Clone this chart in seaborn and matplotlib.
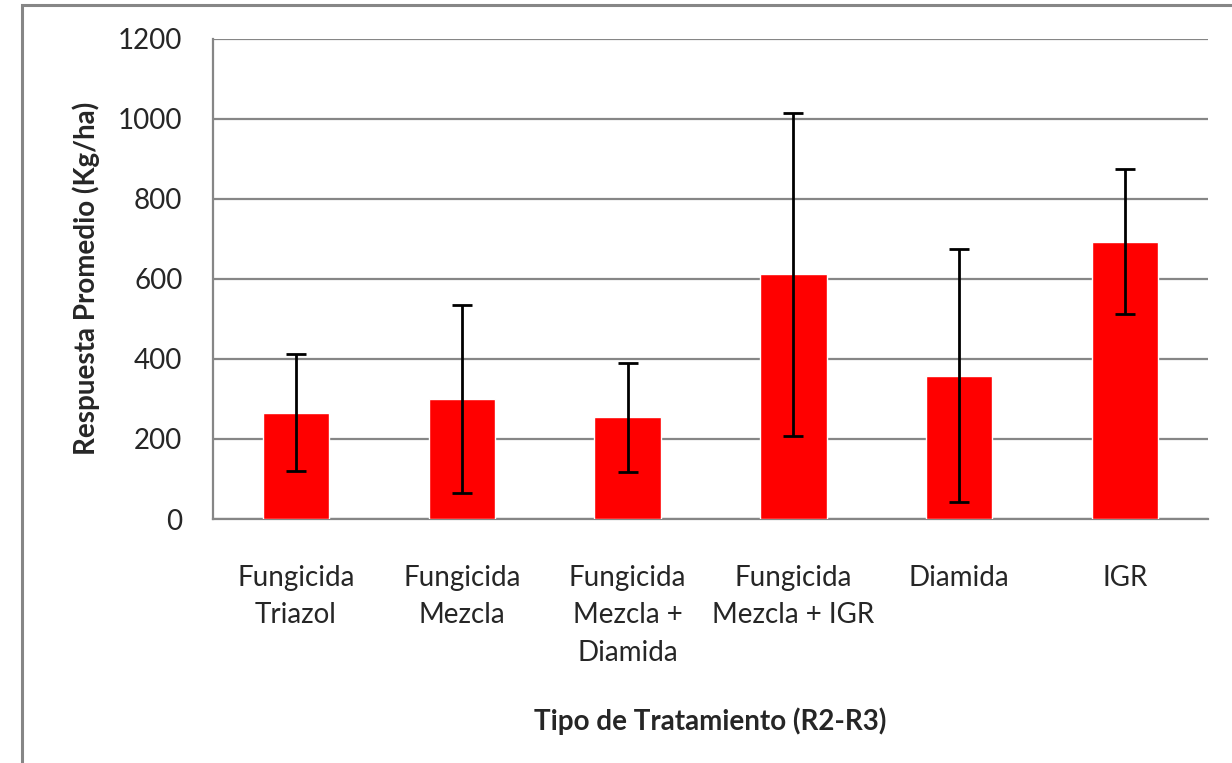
import matplotlib
matplotlib.use('Agg')
import matplotlib.pyplot as plt
import seaborn as sns
import numpy as np
import pandas as pd
from matplotlib.patches import Rectangle

# datos
tratamientos = ['Fungicida\nTriazol', 'Fungicida\nMezcla', 'Fungicida\nMezcla +\nDiamida',
                'Fungicida\nMezcla + IGR', 'Diamida', 'IGR']
respuesta = [265, 300, 254, 611, 358, 693]
error = [146, 234, 137, 403, 316, 182]
y_ticks = [0, 200, 400, 600, 800, 1000, 1200]

sns.set_style('white')
plt.rcParams['font.family'] = ['Lato', 'DejaVu Sans']

df = pd.DataFrame({'tratamiento': tratamientos, 'respuesta': respuesta, 'error': error})

fig = plt.figure(figsize=(12.32, 7.63), dpi=100)
ax = fig.add_axes([213 / 1232, 1 - 519 / 763, (1208 - 213) / 1232, (519 - 38.7) / 763])

# borde exterior del grafico (estilo Excel)
fig.patches.append(Rectangle((22 / 1232, -0.1), 1.2, 1 - 5 / 763 + 0.1, transform=fig.transFigure,
                             fill=False, edgecolor='#868686', linewidth=2.2, zorder=0))

sns.barplot(data=df, x='tratamiento', y='respuesta', color='#ff0000', width=0.4,
            saturation=1, errorbar=None, ax=ax, zorder=3)
ax.errorbar(np.arange(len(respuesta)), df['respuesta'], yerr=df['error'], fmt='none',
            ecolor='black', elinewidth=2, capsize=7, capthick=2, zorder=4)

ax.set_ylim(0, 1200)
ax.set_yticks(y_ticks)
ax.set_xlim(-0.5, len(tratamientos) - 0.5)
ax.yaxis.grid(True, color='#868686', linewidth=1.6, zorder=0)
ax.set_axisbelow(True)

for s in ['top', 'right']:
    ax.spines[s].set_visible(False)
for s in ['left', 'bottom']:
    ax.spines[s].set_color('#868686')
    ax.spines[s].set_linewidth(1.6)

ax.tick_params(axis='y', direction='out', length=6, width=1.6, color='#868686',
               pad=16, labelsize=20)
ax.set_xticks(np.arange(-0.5, len(tratamientos)), minor=True)
ax.tick_params(axis='x', which='minor', direction='out', length=8, width=1.6, color='#868686')
ax.tick_params(axis='x', which='major', length=0, pad=33, labelsize=20)
ax.set_xticklabels(tratamientos, linespacing=1.55)

ax.set_xlabel('Tipo de Tratamiento (R2-R3)', fontsize=20, fontweight='bold', labelpad=30)
ax.set_ylabel('Respuesta Promedio (Kg/ha)', fontsize=20, fontweight='bold', labelpad=13)

fig.savefig('out.png', dpi=100)
